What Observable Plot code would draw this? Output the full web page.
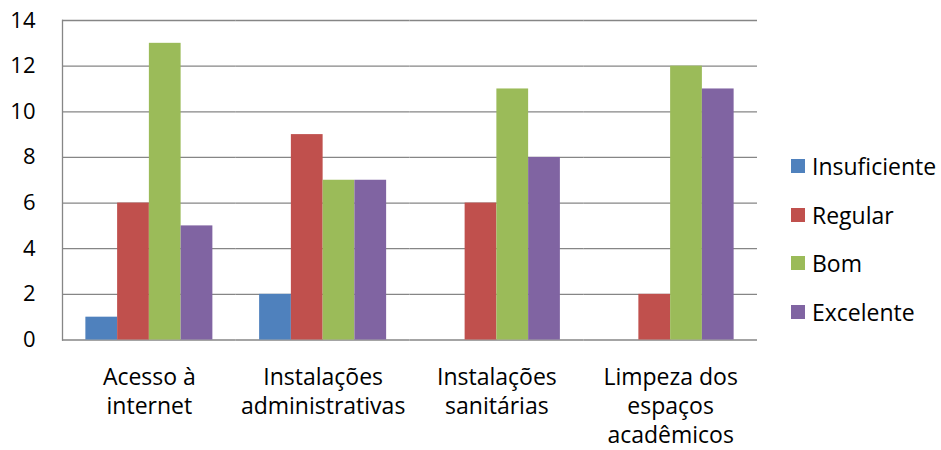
<!DOCTYPE html>
<html><head><meta charset="utf-8">
<script src="https://cdn.jsdelivr.net/npm/d3@7"></script>
<script src="https://cdn.jsdelivr.net/npm/@observablehq/plot@0.6"></script>
<style>
body{margin:0;background:#fff;}
#wrap{position:relative;width:941px;height:450px;font-family:"Open Sans";}
#legend{position:absolute;left:791px;top:141.6px;display:flex;flex-direction:column;}
.item{height:48.67px;display:flex;align-items:center;white-space:nowrap;font-size:23px;color:#000;}
.sw{width:14px;height:14px;margin-right:7px;flex:none;}
</style></head><body><div id="wrap"><div id="legend"></div></div>
<script>
const categories = ["Acesso à internet","Instalações administrativas","Instalações sanitárias","Limpeza dos espaços acadêmicos"];
const categoryLabels = ["Acesso à\ninternet","Instalações\nadministrativas","Instalações\nsanitárias","Limpeza dos\nespaços\nacadêmicos"];
const series = ["Insuficiente","Regular","Bom","Excelente"];
const colors = ["#4F81BD","#C0504D","#9BBB59","#8064A2"];
const insuficiente = [1,2,0,0];
const regular = [6,9,6,2];
const bom = [13,7,11,12];
const excelente = [5,7,8,11];
const yTicks = [0,2,4,6,8,10,12,14];

const values = [insuficiente, regular, bom, excelente];
const data = categories.flatMap((c,i)=>series.map((s,j)=>({category:c, series:s, value: values[j][i]})));
const gray = "#868686";

const chart = Plot.plot({
  width: 941, height: 450,
  marginLeft: 62, marginRight: 184, marginTop: 20, marginBottom: 110.5,
  style: {fontFamily: "Open Sans", fontSize: "21px", color: "#000", background: "#fff"},
  fx: {domain: categories, padding: 0, round: false},
  x: {domain: series, paddingInner: 0, paddingOuter: 0.736, round: false, axis: null},
  y: {domain: [0,14]},
  color: {domain: series, range: colors},
  marks: [
    Plot.ruleY(yTicks, {stroke: gray, strokeWidth: 1.3}),
    Plot.frame({anchor: "left", stroke: gray, strokeWidth: 1.3, fx: [categories[0]]}),
    Plot.barY(data, {fx: "category", x: "series", y: "value", fill: "series"}),
    Plot.axisY({ticks: yTicks, tickSize: 0, tickPadding: 27, label: null, fill: "#000", fontSize: 22}),
    Plot.axisFx({anchor: "bottom", tickSize: 0, tickPadding: 24, label: null, lineHeight: 1.26, fill: "#000", fontSize: 23,
      tickFormat: c => categoryLabels[categories.indexOf(c)]})
  ]
});
const wrap = document.getElementById("wrap");
wrap.insertBefore(chart, wrap.firstChild);
const legend = document.getElementById("legend");
series.forEach((s,i)=>{
  const it = document.createElement("div"); it.className="item";
  const sw = document.createElement("div"); sw.className="sw"; sw.style.background=colors[i];
  it.appendChild(sw); it.appendChild(document.createTextNode(s));
  legend.appendChild(it);
});
</script></body></html>
